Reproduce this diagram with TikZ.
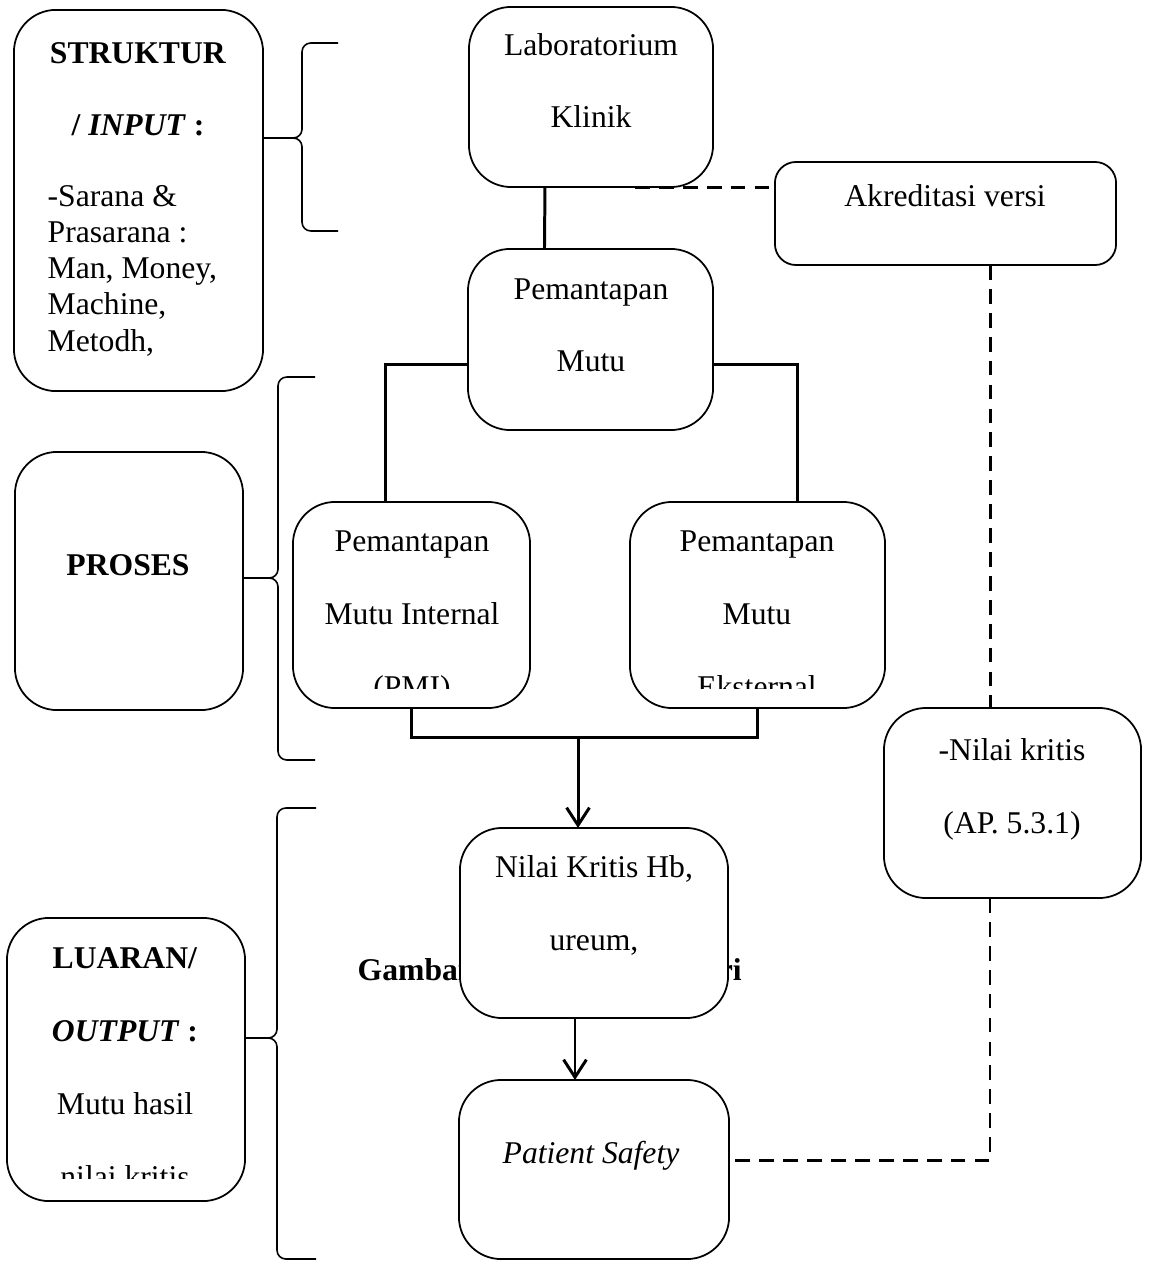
\documentclass[tikz,border=0pt]{standalone}
\usepackage{fontspec}
\setmainfont{Liberation Serif}
\usetikzlibrary{arrows.meta}

\tikzset{
  box/.style={draw,rounded corners=12pt,line width=0.5pt,fill=white,inner sep=0pt,outer sep=0pt},
  txt/.style={font=\fontsize{9}{10.3}\selectfont,align=center,anchor=base,inner sep=0pt},
  conn/.style={line width=0.85pt},
  dsh/.style={line width=0.85pt,dash pattern=on 4.2pt off 2.6pt},
  brc/.style={line width=0.45pt,rounded corners=2.5pt},
}

\begin{document}
\begin{tikzpicture}[x=0.01cm,y=-0.01cm,>={Straight Barb[length=5pt,width=6.5pt]}]
\useasboundingbox (0,0) rectangle (1149,1264);

% left column: struktur / proses / luaran
% (multi-line texts sit on the baseline of their last line)
\node[box,minimum width=2.49cm,minimum height=3.81cm] (struk) at (138.5,200.5) {};
\node[txt] (strukT) at (138,136) {\textbf{STRUKTUR}\\[10.4pt]\textbf{/ \textit{INPUT} :}};
\node[txt,align=left,anchor=base west] (strukL) at (47,351) {-Sarana \&\\Prasarana :\\Man, Money,\\Machine,\\Metodh,};
\node[box,minimum width=2.28cm,minimum height=2.58cm] (proses) at (129,581) {};
\node[txt] (prosesT) at (128,575) {\textbf{PROSES}};
\node[box,minimum width=2.38cm,minimum height=2.83cm] (luaran) at (126,1059.5) {};
\begin{scope}
  \clip (7,918) rectangle (245,1178);
  \node[txt] (luaranT) at (125,1187) {\textbf{LUARAN/}\\[10.4pt]\textbf{\textit{OUTPUT} :}\\[10.4pt]Mutu hasil\\[10.4pt]nilai kritis};
\end{scope}

% braces
\draw[brc] (338,43) -- (302,43) -- (302,138) -- (263,138);
\draw[brc] (263,138) -- (302,138) -- (302,231) -- (338,231);
\draw[brc] (315,377) -- (278,377) -- (278,578) -- (243,578);
\draw[brc] (243,578) -- (278,578) -- (278,760) -- (315,760);
\draw[brc] (316,808) -- (277,808) -- (277,1038) -- (245,1038);
\draw[brc] (245,1038) -- (277,1038) -- (277,1259) -- (316,1259);

% caption behind the box
\node[txt,anchor=base west] (capT) at (357,980) {\textbf{Gambar 2.1 Kerangka Teori}};

% middle column
\node[box,minimum width=2.44cm,minimum height=1.80cm] (lab) at (591,97) {};
\node[txt] (labT) at (591,128) {Laboratorium\\[10.4pt]Klinik};
\node[box,minimum width=2.45cm,minimum height=1.81cm] (pm) at (590.5,339.5) {};
\node[txt] (pmT) at (591,372) {Pemantapan\\[10.4pt]Mutu};
\node[box,minimum width=2.37cm,minimum height=2.06cm] (pmi) at (411.5,605) {};
\node[box,minimum width=2.55cm,minimum height=2.06cm] (pme) at (757.5,605) {};
\begin{scope}
  \clip (293,502) rectangle (885,688);
  \node[txt] (pmiT) at (412,697) {Pemantapan\\[10.4pt]Mutu Internal\\[10.4pt](PMI)};
  \node[txt] (pmeT) at (757,697) {Pemantapan\\[10.4pt]Mutu\\[10.4pt]Eksternal};
\end{scope}
\node[box,minimum width=2.68cm,minimum height=1.90cm] (nkh) at (594,923) {};
\node[txt] (nkhT) at (594,950) {Nilai Kritis Hb,\\[10.4pt]ureum,};
\node[box,minimum width=2.70cm,minimum height=1.79cm] (ps) at (594,1169.5) {};
\node[txt] (psT) at (591,1163) {\textit{Patient Safety}};

% right column
\node[box,rounded corners=6pt,minimum width=3.41cm,minimum height=1.03cm] (akr) at (945.5,213.5) {};
\node[txt] (akrT) at (945,207) {Akreditasi versi};
\node[box,minimum width=2.57cm,minimum height=1.90cm] (nk) at (1012.5,803) {};
\node[txt] (nkT) at (1012,833) {-Nilai kritis\\[10.4pt](AP. 5.3.1)};

% connectors
\coordinate (jn) at (578,737);
\draw[conn] ([xshift=-4.6mm]lab.south) -- ([xshift=-4.6mm]pm.north);
\draw[conn] ([yshift=-2.5mm]pm.west) -| ([xshift=-2.55mm]pmi.north);
\draw[conn] ([yshift=-2.5mm]pm.east) -| ([xshift=3.95mm]pme.north);
\draw[conn] (pmi.south) |- (jn) -| (pme.south);
\draw[conn,->] (jn) -- (jn |- nkh.north);
\draw[conn,->] ([xshift=-1.9mm]nkh.south) -- ([xshift=-1.9mm]ps.north);
\draw[dsh] ([xshift=4.4mm]lab.south) -- (akr.west |- lab.south);
\draw[dsh] ([xshift=4.45mm]akr.south) -- ([xshift=4.45mm]akr.south |- nk.north);
\draw[dsh] ([xshift=-2.25mm]nk.south) |- ([yshift=0.9mm]ps.east);
\end{tikzpicture}
\end{document}
